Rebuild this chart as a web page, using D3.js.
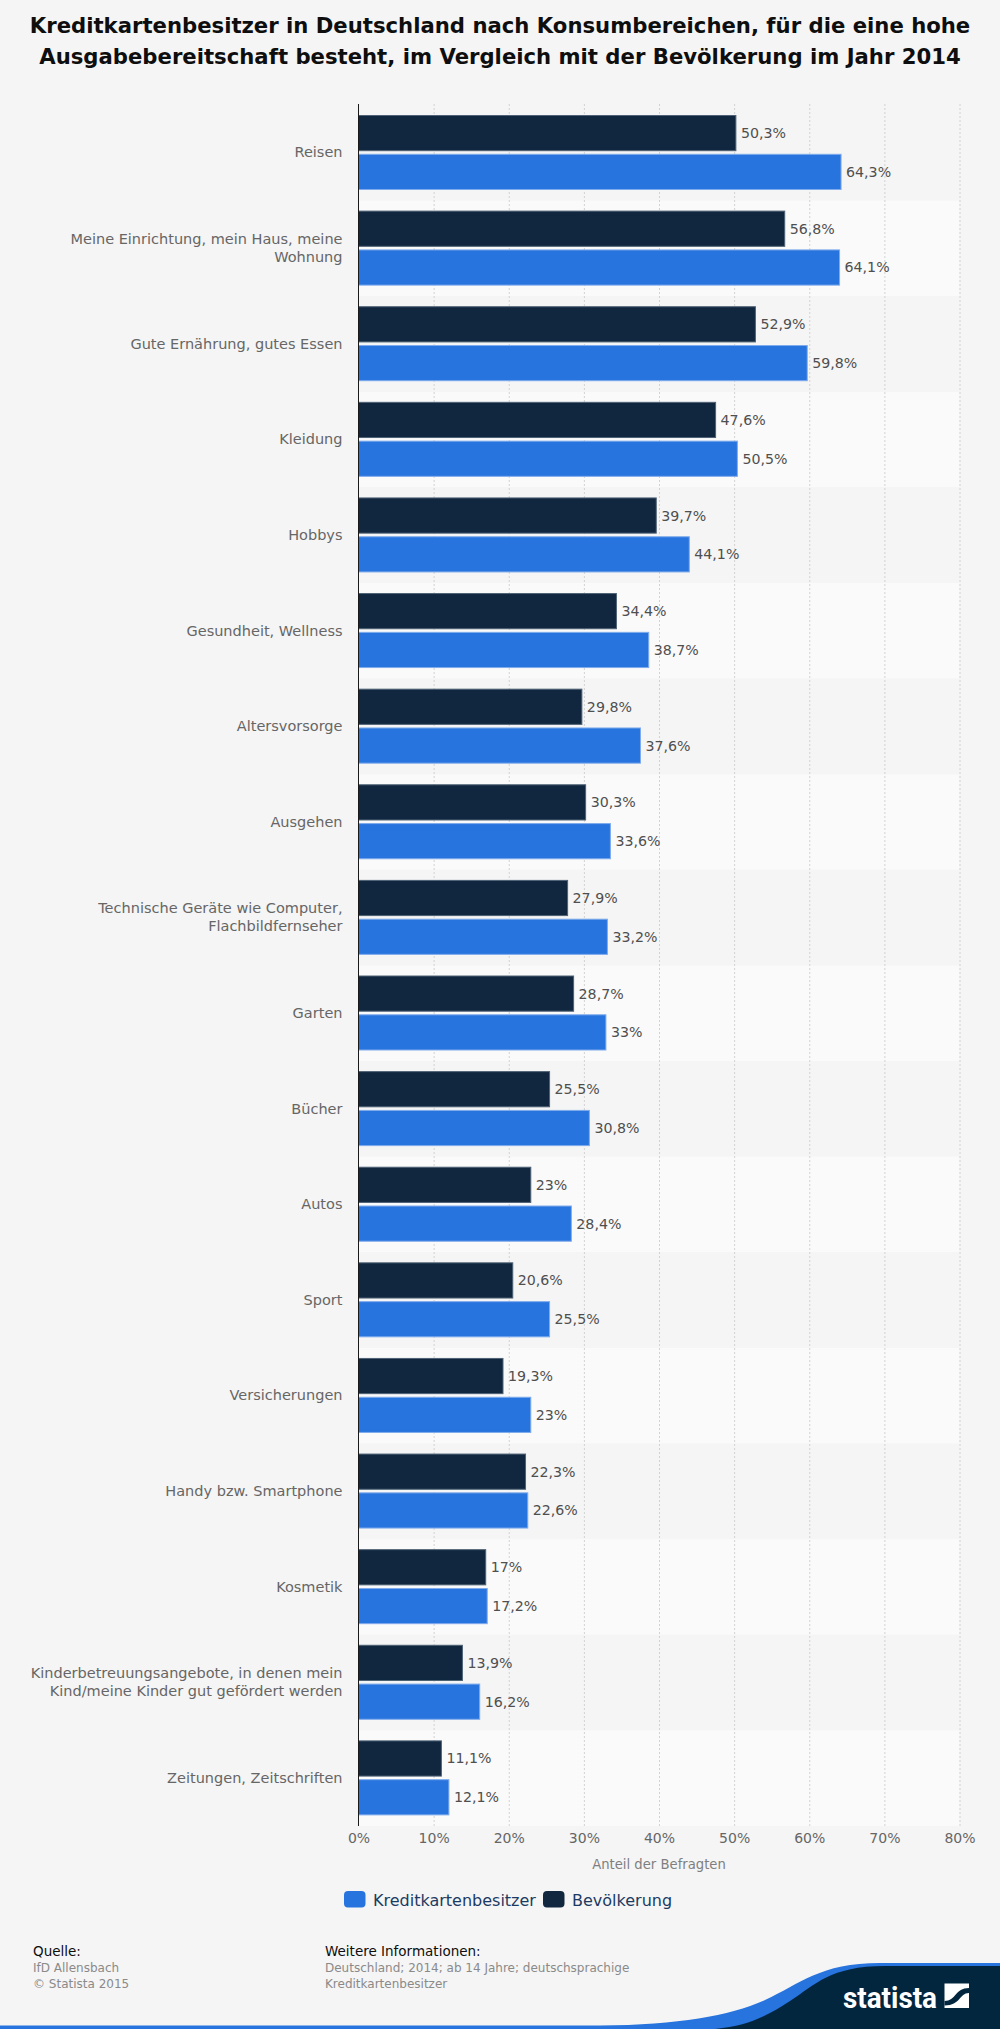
<!DOCTYPE html>
<html>
<head>
<meta charset="utf-8">
<script src="https://cdnjs.cloudflare.com/ajax/libs/d3/7.8.5/d3.min.js"></script>
<style>
  html, body { margin: 0; padding: 0; background: #f5f5f5; }
  svg { display: block; font-family: "DejaVu Sans", sans-serif; }
</style>
</head>
<body>
<div id="chart"></div>
<script>
const titleLines = [
  "Kreditkartenbesitzer in Deutschland nach Konsumbereichen, für die eine hohe",
  "Ausgabebereitschaft besteht, im Vergleich mit der Bevölkerung im Jahr 2014"
];

// "|" marks the line break in a label
const categories = [
  "Reisen",
  "Meine Einrichtung, mein Haus, meine|Wohnung",
  "Gute Ernährung, gutes Essen",
  "Kleidung",
  "Hobbys",
  "Gesundheit, Wellness",
  "Altersvorsorge",
  "Ausgehen",
  "Technische Geräte wie Computer,|Flachbildfernseher",
  "Garten",
  "Bücher",
  "Autos",
  "Sport",
  "Versicherungen",
  "Handy bzw. Smartphone",
  "Kosmetik",
  "Kinderbetreuungsangebote, in denen mein|Kind/meine Kinder gut gefördert werden",
  "Zeitungen, Zeitschriften"
];

const bevoelkerung = [50.3, 56.8, 52.9, 47.6, 39.7, 34.4, 29.8, 30.3, 27.9, 28.7, 25.5, 23, 20.6, 19.3, 22.3, 17, 13.9, 11.1];
const kreditkarten = [64.3, 64.1, 59.8, 50.5, 44.1, 38.7, 37.6, 33.6, 33.2, 33, 30.8, 28.4, 25.5, 23, 22.6, 17.2, 16.2, 12.1];

const seriesNames = ["Bevölkerung", "Kreditkartenbesitzer"];
const seriesValues = [bevoelkerung, kreditkarten];
const seriesColors = ["#10273f", "#2874de"];
const seriesStroke = ["#4f6275", "#7fabec"];

const xTicks = [0, 10, 20, 30, 40, 50, 60, 70, 80];
const sourceLines = ["IfD Allensbach", "© Statista 2015"];
const infoLines = ["Deutschland; 2014; ab 14 Jahre; deutschsprachige", "Kreditkartenbesitzer"];

const width = 1000, height = 2029;
const plot = { left: 358.5, right: 959.5, top: 105, bottom: 1826 };

const fmt = v => String(v).replace(".", ",") + "%";

const svg = d3.select("#chart").append("svg")
  .attr("width", width)
  .attr("height", height);

svg.append("rect").attr("width", width).attr("height", height).attr("fill", "#f5f5f5");

// title
svg.append("g").selectAll("text")
  .data(titleLines)
  .enter().append("text")
  .attr("x", 500)
  .attr("y", (d, i) => 25.5 + i * 31.5)
  .attr("dy", "0.35em")
  .attr("text-anchor", "middle")
  .attr("font-size", 21.2)
  .attr("font-weight", "bold")
  .attr("fill", "#0e0e0e")
  .text(d => d);

const x = d3.scaleLinear().domain([0, 80]).range([plot.left, plot.right]);
const y = d3.scaleBand().domain(categories).range([plot.top, plot.bottom]);
const inner = d3.scaleBand().domain(seriesNames).range([10, 85]).paddingInner(0.067);

// alternating bands
svg.append("g").selectAll("rect")
  .data(categories)
  .enter().append("rect")
  .attr("x", plot.left)
  .attr("y", d => y(d))
  .attr("width", plot.right - plot.left)
  .attr("height", y.bandwidth())
  .attr("fill", (d, i) => i % 2 ? "#fafafa" : "#f5f5f5");

// axis with grid lines
const xAxis = d3.axisBottom(x)
  .tickValues(xTicks)
  .tickFormat(d => d + "%")
  .tickSize(0)
  .tickPadding(7);

const axisG = svg.append("g")
  .attr("transform", "translate(0," + plot.bottom + ")")
  .call(xAxis);
axisG.select(".domain").remove();
axisG.selectAll("text")
  .attr("font-family", "DejaVu Sans")
  .attr("font-size", 14)
  .attr("fill", "#666666");
axisG.selectAll(".tick").append("line")
  .attr("y1", 0)
  .attr("y2", plot.top - 1 - plot.bottom)
  .attr("stroke", "#d2d2d2")
  .attr("stroke-width", 1)
  .attr("stroke-dasharray", "2,2")
  .style("display", d => d === 0 ? "none" : null);

svg.append("text")
  .attr("x", x(40))
  .attr("y", 1864)
  .attr("dy", "0.35em")
  .attr("text-anchor", "middle")
  .attr("font-size", 13.2)
  .attr("fill", "#7f7f7f")
  .text("Anteil der Befragten");

// bars
seriesNames.forEach((name, s) => {
  const g = svg.append("g");
  g.selectAll("rect")
    .data(seriesValues[s])
    .enter().append("rect")
    .attr("x", x(0))
    .attr("y", (d, i) => y(categories[i]) + inner(name) + 0.5)
    .attr("width", d => x(d) - x(0) - 0.5)
    .attr("height", inner.bandwidth() - 1)
    .attr("fill", seriesColors[s])
    .attr("stroke", seriesStroke[s])
    .attr("stroke-width", 1);
  g.selectAll("text")
    .data(seriesValues[s])
    .enter().append("text")
    .attr("x", d => x(d) + 4.5)
    .attr("y", (d, i) => y(categories[i]) + inner(name) + inner.bandwidth() / 2)
    .attr("dy", "0.35em")
    .attr("font-size", 14.2)
    .attr("fill", "#4f4f4f")
    .text(fmt);
});

// category labels
const catG = svg.append("g");
categories.forEach(c => {
  const lines = c.split("|");
  const mid = y(c) + y.bandwidth() / 2 - 0.4;
  catG.selectAll(null)
    .data(lines)
    .enter().append("text")
    .attr("x", 342.5)
    .attr("y", (d, i) => mid + (i - (lines.length - 1) / 2) * 18)
    .attr("dy", "0.35em")
    .attr("text-anchor", "end")
    .attr("font-size", 14.5)
    .attr("fill", "#666666")
    .text(d => d);
});

// axis line on top of the bars
svg.append("line")
  .attr("x1", plot.left).attr("x2", plot.left)
  .attr("y1", plot.top - 1).attr("y2", plot.bottom)
  .attr("stroke", "#1a1a1a")
  .attr("stroke-width", 1);

// legend
const legendItems = [
  { name: seriesNames[1], color: seriesColors[1], x: 344 },
  { name: seriesNames[0], color: seriesColors[0], x: 543 }
];
const legend = svg.append("g").selectAll("g")
  .data(legendItems)
  .enter().append("g")
  .attr("transform", d => "translate(" + d.x + ",1891)");
legend.append("rect")
  .attr("width", 21.5)
  .attr("height", 16.5)
  .attr("rx", 4)
  .attr("fill", d => d.color);
legend.append("text")
  .attr("x", 29)
  .attr("y", 9)
  .attr("dy", "0.35em")
  .attr("font-size", 16)
  .attr("fill", "#1c3b63")
  .text(d => d.name);

// footer
function footerBlock(left, heading, lines) {
  const g = svg.append("g");
  g.append("text")
    .attr("x", left).attr("y", 1951).attr("dy", "0.35em")
    .attr("font-size", 13.5).attr("fill", "#0e0e0e")
    .text(heading);
  g.selectAll(".line")
    .data(lines)
    .enter().append("text")
    .attr("class", "line")
    .attr("x", left)
    .attr("y", (d, i) => 1968 + i * 16)
    .attr("dy", "0.35em")
    .attr("font-size", 12)
    .attr("fill", "#8a8a8a")
    .text(d => d);
}
footerBlock(33, "Quelle:", sourceLines);
footerBlock(325, "Weitere Informationen:", infoLines);

// logo corner
const wave = "M600,2026 C680,2024 730,2016 765,2000 C800,1984 820,1963 880,1963 L1000,1963 L1000,2029 L600,2029 Z";
const dark = "M715,2029 C750,2026 770,2014 790,2001 C815,1985 830,1966 885,1966 L1000,1966 L1000,2029 Z";
svg.append("rect").attr("x", 0).attr("y", 2025.5).attr("width", width).attr("height", 3.5).attr("fill", "#2874de");
svg.append("path").attr("d", wave).attr("fill", "#2874de");
svg.append("path").attr("d", dark).attr("fill", "#03263f");
svg.append("text")
  .attr("x", 843).attr("y", 2007.5)
  .attr("font-family", "Roboto")
  .attr("font-size", 29)
  .attr("font-weight", "bold")
  .attr("fill", "#ffffff")
  .attr("textLength", 94)
  .attr("lengthAdjust", "spacingAndGlyphs")
  .text("statista");
svg.append("rect").attr("x", 944.5).attr("y", 1983.5).attr("width", 24.5).attr("height", 24.5).attr("fill", "#ffffff");
svg.append("path")
  .attr("d", "M944.5,2001 C956,2001 955,1988 969,1988 L969,1993 C959,1993 961,2005.5 944.5,2005.5 Z")
  .attr("fill", "#03263f");
</script>
</body>
</html>
